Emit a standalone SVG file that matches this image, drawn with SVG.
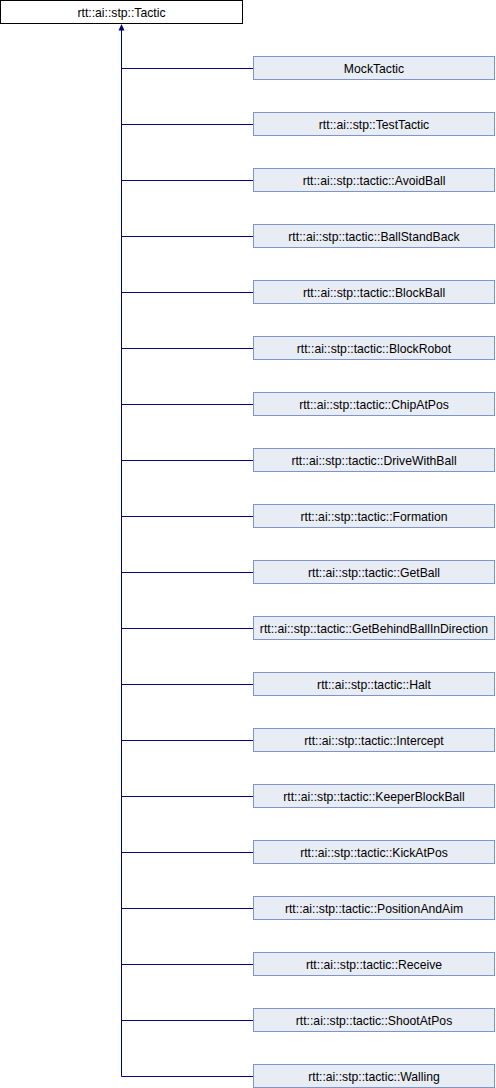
<svg xmlns="http://www.w3.org/2000/svg" width="496" height="1088" viewBox="0 0 496 1088">
<style>
.n rect{fill:#E8ECF4;stroke:#7E95C8;stroke-width:1}
.b rect{fill:#FFFFFF;stroke:#000000;stroke-width:1}
text{font-family:"Liberation Sans",Arial,sans-serif;font-size:12.2px;fill:#000;text-anchor:middle}
.c path{fill:none;stroke:#000080;stroke-width:1}
</style>
<rect width="496" height="1088" fill="#FFFFFF"/>
<g class="c" id="connectors">
<path d="M121.5,29 V1076.5"/>
<polygon points="121.5,24 118.5,30.5 124.5,30.5" fill="#000080"/>
<path d="M121.5,68.5 H253.5"/>
<path d="M121.5,124.5 H253.5"/>
<path d="M121.5,180.5 H253.5"/>
<path d="M121.5,236.5 H253.5"/>
<path d="M121.5,292.5 H253.5"/>
<path d="M121.5,348.5 H253.5"/>
<path d="M121.5,404.5 H253.5"/>
<path d="M121.5,460.5 H253.5"/>
<path d="M121.5,516.5 H253.5"/>
<path d="M121.5,572.5 H253.5"/>
<path d="M121.5,628.5 H253.5"/>
<path d="M121.5,684.5 H253.5"/>
<path d="M121.5,740.5 H253.5"/>
<path d="M121.5,796.5 H253.5"/>
<path d="M121.5,852.5 H253.5"/>
<path d="M121.5,908.5 H253.5"/>
<path d="M121.5,964.5 H253.5"/>
<path d="M121.5,1020.5 H253.5"/>
<path d="M121.5,1076.5 H253.5"/>
</g>
<g class="b" id="Tactic"><rect x="0.5" y="0.5" width="242" height="23"/><text x="121.5" y="16.5">rtt::ai::stp::Tactic</text></g>
<g class="n" id="MockTactic"><rect x="253.5" y="56.5" width="241" height="23"/><text x="374" y="72.5">MockTactic</text></g>
<g class="n" id="TestTactic"><rect x="253.5" y="112.5" width="241" height="23"/><text x="374" y="128.5">rtt::ai::stp::TestTactic</text></g>
<g class="n" id="AvoidBall"><rect x="253.5" y="168.5" width="241" height="23"/><text x="374" y="184.5">rtt::ai::stp::tactic::AvoidBall</text></g>
<g class="n" id="BallStandBack"><rect x="253.5" y="224.5" width="241" height="23"/><text x="374" y="240.5">rtt::ai::stp::tactic::BallStandBack</text></g>
<g class="n" id="BlockBall"><rect x="253.5" y="280.5" width="241" height="23"/><text x="374" y="296.5">rtt::ai::stp::tactic::BlockBall</text></g>
<g class="n" id="BlockRobot"><rect x="253.5" y="336.5" width="241" height="23"/><text x="374" y="352.5">rtt::ai::stp::tactic::BlockRobot</text></g>
<g class="n" id="ChipAtPos"><rect x="253.5" y="392.5" width="241" height="23"/><text x="374" y="408.5">rtt::ai::stp::tactic::ChipAtPos</text></g>
<g class="n" id="DriveWithBall"><rect x="253.5" y="448.5" width="241" height="23"/><text x="374" y="464.5">rtt::ai::stp::tactic::DriveWithBall</text></g>
<g class="n" id="Formation"><rect x="253.5" y="504.5" width="241" height="23"/><text x="374" y="520.5">rtt::ai::stp::tactic::Formation</text></g>
<g class="n" id="GetBall"><rect x="253.5" y="560.5" width="241" height="23"/><text x="374" y="576.5">rtt::ai::stp::tactic::GetBall</text></g>
<g class="n" id="GetBehindBallInDirection"><rect x="253.5" y="616.5" width="241" height="23"/><text x="374" y="632.5">rtt::ai::stp::tactic::GetBehindBallInDirection</text></g>
<g class="n" id="Halt"><rect x="253.5" y="672.5" width="241" height="23"/><text x="374" y="688.5">rtt::ai::stp::tactic::Halt</text></g>
<g class="n" id="Intercept"><rect x="253.5" y="728.5" width="241" height="23"/><text x="374" y="744.5">rtt::ai::stp::tactic::Intercept</text></g>
<g class="n" id="KeeperBlockBall"><rect x="253.5" y="784.5" width="241" height="23"/><text x="374" y="800.5">rtt::ai::stp::tactic::KeeperBlockBall</text></g>
<g class="n" id="KickAtPos"><rect x="253.5" y="840.5" width="241" height="23"/><text x="374" y="856.5">rtt::ai::stp::tactic::KickAtPos</text></g>
<g class="n" id="PositionAndAim"><rect x="253.5" y="896.5" width="241" height="23"/><text x="374" y="912.5">rtt::ai::stp::tactic::PositionAndAim</text></g>
<g class="n" id="Receive"><rect x="253.5" y="952.5" width="241" height="23"/><text x="374" y="968.5">rtt::ai::stp::tactic::Receive</text></g>
<g class="n" id="ShootAtPos"><rect x="253.5" y="1008.5" width="241" height="23"/><text x="374" y="1024.5">rtt::ai::stp::tactic::ShootAtPos</text></g>
<g class="n" id="Walling"><rect x="253.5" y="1064.5" width="241" height="23"/><text x="374" y="1080.5">rtt::ai::stp::tactic::Walling</text></g>
</svg>
